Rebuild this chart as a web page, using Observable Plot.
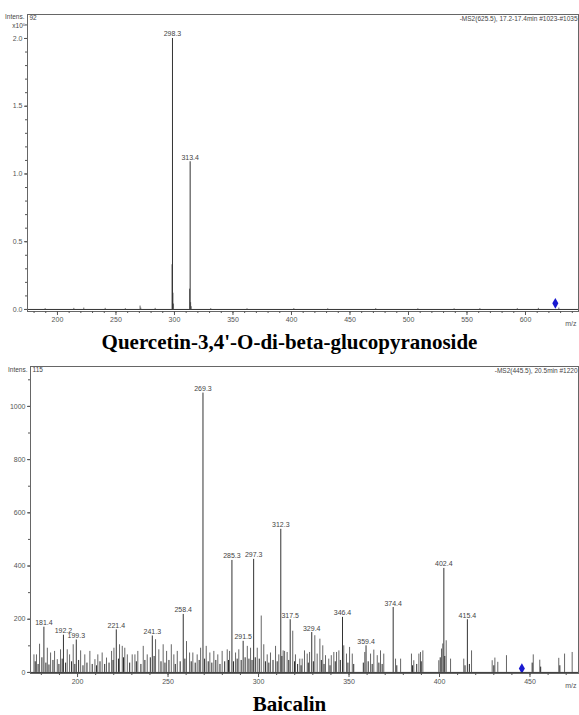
<!DOCTYPE html>
<html><head><meta charset="utf-8">
<script src="https://cdn.jsdelivr.net/npm/d3@7"></script>
<script src="https://cdn.jsdelivr.net/npm/@observablehq/plot@0.6"></script>
<style>
body{margin:0;background:#fff;width:579px;height:715px;position:relative;overflow:hidden}
#c1{position:absolute;left:0;top:0;z-index:1}
#c2{position:absolute;left:0;top:350px;z-index:1}
.title{position:absolute;left:0;width:579px;text-align:center;font-family:"Liberation Serif","Times New Roman",serif;font-weight:bold;font-size:21px;line-height:23px;color:#000;z-index:2}
</style></head><body>
<div id="c1"></div>
<div class="title" style="top:331px">Quercetin-3,4'-O-di-beta-glucopyranoside</div>
<div id="c2"></div>
<div class="title" style="top:693px">Baicalin</div>
<script>
// ---------- Quercetin-3,4'-O-di-beta-glucopyranoside (intensity x10^5) ----------
const qHeader = "-MS2(625.5), 17.2-17.4min #1023-#1035";
const qScan = "92";
const qLabelMz = [298.3, 313.4];
const qLabelInt = [2.0, 1.09];
const qLabelText = ["298.3", "313.4"];
const qMz = [297.9, 298.7, 299.2, 312.9, 313.8, 314.3, 270.6, 271.2, 189.5, 214.0, 222.5, 240.8, 258.0, 283.5, 331.0, 362.0, 402.0, 431.0, 472.0, 508.0, 539.0, 561.0, 593.0, 611.0, 628.5];
const qInt = [0.33, 0.12, 0.04, 0.15, 0.05, 0.02, 0.025, 0.01, 0.006, 0.008, 0.01, 0.008, 0.006, 0.008, 0.006, 0.005, 0.006, 0.005, 0.006, 0.005, 0.005, 0.006, 0.006, 0.008, 0.01];
const qPrecursor = {mz: 625.5, int: 0.045};
const qXTicks = [200, 250, 300, 350, 400, 450, 500, 550, 600];
const qYTicks = [0, 0.5, 1.0, 1.5, 2.0];

// ---------- Baicalin ----------
const bHeader = "-MS2(445.5), 20.5min #1220";
const bScan = "115";
const bLabelMz = [181.4, 192.2, 199.3, 221.4, 241.3, 258.4, 269.3, 285.3, 291.5, 297.3, 312.3, 317.5, 329.4, 346.4, 359.4, 374.4, 402.4, 415.4];
const bLabelInt = [170, 140, 122, 160, 137, 218, 1050, 421, 117, 425, 538, 198, 150, 207, 100, 244, 391, 198];
const bLabelText = ["181.4", "192.2", "199.3", "221.4", "241.3", "258.4", "269.3", "285.3", "291.5", "297.3", "312.3", "317.5", "329.4", "346.4", "359.4", "374.4", "402.4", "415.4"];
const bMz = [175.9, 177.3, 179.0, 183.3, 185.1, 187.3, 188.8, 190.6, 194.3, 195.6, 197.6, 201.7, 204.0, 206.8, 209.6, 211.2, 213.6, 216.0, 218.8, 220.1, 223.2, 224.7, 226.1, 227.5, 230.2, 231.7, 233.3, 236.3, 238.5, 243.1, 244.9, 247.3, 249.2, 251.8, 253.2, 255.1, 260.2, 261.9, 263.7, 266.1, 268.0, 271.1, 273.1, 275.3, 277.5, 279.9, 282.7, 284.0, 287.3, 289.1, 293.8, 295.6, 299.3, 301.5, 302.9, 304.8, 306.6, 309.4, 311.2, 313.6, 314.4, 315.8, 318.9, 320.4, 322.8, 324.1, 325.4, 326.9, 328.2, 331.1, 332.4, 333.9, 335.5, 337.0, 338.8, 340.2, 341.6, 343.1, 344.4, 347.1, 348.6, 350.3, 351.8, 358.7, 361.9, 363.7, 365.6, 367.4, 369.2, 375.7, 378.5, 384.5, 385.8, 388.6, 389.5, 390.8, 399.6, 401.1, 401.8, 403.7, 406.1, 413.4, 417.7, 429.1, 430.6, 432.2, 437.0, 451.8, 455.4, 465.9, 469.1, 473.3];
const bInt = [66, 66, 106, 91, 73, 79, 48, 85, 85, 66, 104, 81, 66, 79, 48, 66, 73, 54, 79, 91, 104, 98, 91, 66, 66, 66, 79, 98, 66, 123, 85, 104, 79, 104, 66, 79, 116, 73, 73, 66, 91, 98, 73, 79, 66, 79, 85, 79, 73, 85, 98, 91, 91, 212, 104, 66, 73, 98, 66, 81, 79, 75, 155, 66, 50, 50, 81, 69, 75, 138, 69, 125, 100, 63, 50, 63, 75, 75, 81, 100, 69, 94, 69, 75, 69, 84, 63, 81, 69, 50, 50, 69, 44, 69, 75, 81, 44, 88, 107, 119, 50, 50, 81, 44, 54, 38, 63, 66, 46, 53, 69, 75];
const bLowMz = [176.6, 178.2, 180.3, 182.5, 184.2, 186.4, 189.7, 191.5, 193.4, 196.7, 198.5, 200.6, 203.0, 205.2, 208.1, 210.5, 212.4, 215.0, 217.4, 219.6, 222.6, 225.4, 228.8, 232.5, 235.0, 237.2, 240.2, 242.3, 246.1, 248.3, 250.5, 254.0, 256.7, 259.3, 262.8, 265.0, 267.2, 270.2, 272.2, 274.2, 276.4, 278.7, 281.3, 283.4, 286.2, 288.2, 290.4, 292.6, 294.7, 296.4, 298.2, 300.4, 303.8, 305.7, 308.0, 310.3, 312.9, 316.7, 319.9, 321.6, 323.5, 327.5, 330.3, 334.7, 336.2, 339.5, 342.4, 345.2, 349.4, 352.6, 357.9, 360.6, 362.8, 366.5, 368.3, 376.4, 385.1, 387.4, 389.9, 400.4, 402.9, 414.1, 416.5, 430.0, 451.2, 455.9, 466.5];
const bLowInt = [40, 30, 55, 35, 28, 45, 30, 50, 35, 40, 30, 45, 25, 35, 30, 25, 40, 30, 35, 45, 50, 55, 35, 40, 30, 45, 55, 60, 40, 35, 45, 30, 40, 50, 40, 35, 45, 50, 40, 35, 45, 30, 40, 45, 40, 50, 45, 55, 50, 45, 55, 50, 40, 35, 45, 40, 60, 45, 40, 30, 25, 35, 40, 45, 30, 25, 40, 45, 35, 30, 35, 40, 30, 35, 30, 25, 25, 30, 40, 55, 60, 25, 30, 25, 35, 20, 25];
const bPrecursor = {mz: 445.5, int: 15};
const bXTicks = [200, 250, 300, 350, 400, 450];
const bYTicks = [0, 200, 400, 600, 800, 1000];

const FONT = "'Liberation Sans Narrow', 'Arial Narrow', 'Liberation Sans', sans-serif";
const GRAY = "#555";

function spectrum(o) {
  const peaks = o.mz.map((m, i) => ({mz: m, int: o.int[i]}));
  const low = (o.lowMz || []).map((m, i) => ({mz: m, int: o.lowInt[i]}));
  const labels = o.labelMz.map((m, i) => ({mz: m, int: o.labelInt[i], text: o.labelText[i]}));
  const [x0, x1] = o.xDomain;
  const xMinor = d3.range(Math.ceil(x0 / 10) * 10, x1, 10);
  const yMinor = d3.range(0, o.yDomain[1], o.yMinorStep);
  return Plot.plot({
    width: 579, height: o.height,
    marginTop: o.mt, marginBottom: o.mb, marginLeft: o.ml, marginRight: o.mr,
    style: {fontFamily: FONT, fontSize: "7px", color: GRAY, background: "transparent", overflow: "visible"},
    x: {domain: o.xDomain},
    y: {domain: o.yDomain},
    marks: [
      Plot.ruleX(peaks, {x: "mz", y1: 0, y2: "int", stroke: "#555", strokeWidth: 0.9}),
      Plot.ruleX(low, {x: "mz", y1: 0, y2: "int", stroke: "#111", strokeWidth: 0.9}),
      Plot.ruleX(labels, {x: "mz", y1: 0, y2: "int", stroke: "#333", strokeWidth: 1}),
      Plot.text(labels, {x: "mz", y: "int", text: "text", dy: -2, lineAnchor: "bottom", fontSize: 7, fill: "#444"}),
      Plot.dot([o.precursor], {x: "mz", y: "int", symbol: "diamond", r: 3.2, fill: "#1a1ad0", stroke: "none"}),
      Plot.ruleY([0], {stroke: "#333", strokeWidth: 1}),
      Plot.frame({stroke: "#666", strokeWidth: 1}),
      Plot.axisX({ticks: o.xTicks, tickSize: 4, tickPadding: 2, tickFormat: "d", fontSize: 7, color: GRAY,
                  label: "m/z", labelAnchor: "right", labelArrow: "none", labelOffset: o.lo}),
      Plot.axisX({ticks: xMinor, tickSize: 2, tickFormat: () => "", label: null, color: GRAY}),
      Plot.axisY({ticks: o.yTicks, tickSize: 3, tickPadding: 2, tickFormat: o.yFormat, fontSize: 7, color: GRAY, label: null}),
      Plot.axisY({ticks: yMinor, tickSize: 2, tickFormat: () => "", label: null, color: GRAY}),
      Plot.text([o.header], {frameAnchor: "top-right", textAnchor: "end", lineAnchor: "top", dx: -1, dy: 2, fontSize: 6.5, fill: "#444"}),
      Plot.text([o.scan], {frameAnchor: "top-left", textAnchor: "start", lineAnchor: "top", dx: 2, dy: 1, fontSize: 6.5, fill: "#444"}),
      Plot.text(["Intens."], {frameAnchor: "top-left", textAnchor: "end", lineAnchor: "middle", dx: -3, dy: o.intensDy, fontSize: 6.5, fill: "#444"}),
      ...(o.unit ? [Plot.text([o.unit], {frameAnchor: "top-left", textAnchor: "end", lineAnchor: "middle", dx: -2, dy: o.intensDy + 9, fontSize: 6.5, fill: "#444"})] : [])
    ]
  });
}

document.getElementById("c1").append(spectrum({
  mz: qMz, int: qInt, labelMz: qLabelMz, labelInt: qLabelInt, labelText: qLabelText,
  precursor: qPrecursor, header: qHeader, scan: qScan, unit: "x10\u2075",
  xDomain: [174.4, 645.3], yDomain: [-0.015, 2.177],
  xTicks: qXTicks, yTicks: qYTicks, yFormat: ".1f", yMinorStep: 0.1,
  height: 330, mt: 14, mb: 19, ml: 27, mr: 1, lo: 14, intensDy: 2
}));

document.getElementById("c2").append(spectrum({
  mz: bMz, int: bInt, lowMz: bLowMz, lowInt: bLowInt,
  labelMz: bLabelMz, labelInt: bLabelInt, labelText: bLabelText,
  precursor: bPrecursor, header: bHeader, scan: bScan, unit: null,
  xDomain: [174.0, 476.8], yDomain: [-4, 1150],
  xTicks: bXTicks, yTicks: bYTicks, yFormat: "d", yMinorStep: 100,
  height: 345, mt: 16, mb: 22, ml: 30, mr: 1, lo: 14, intensDy: 3
}));
</script>
</body></html>
